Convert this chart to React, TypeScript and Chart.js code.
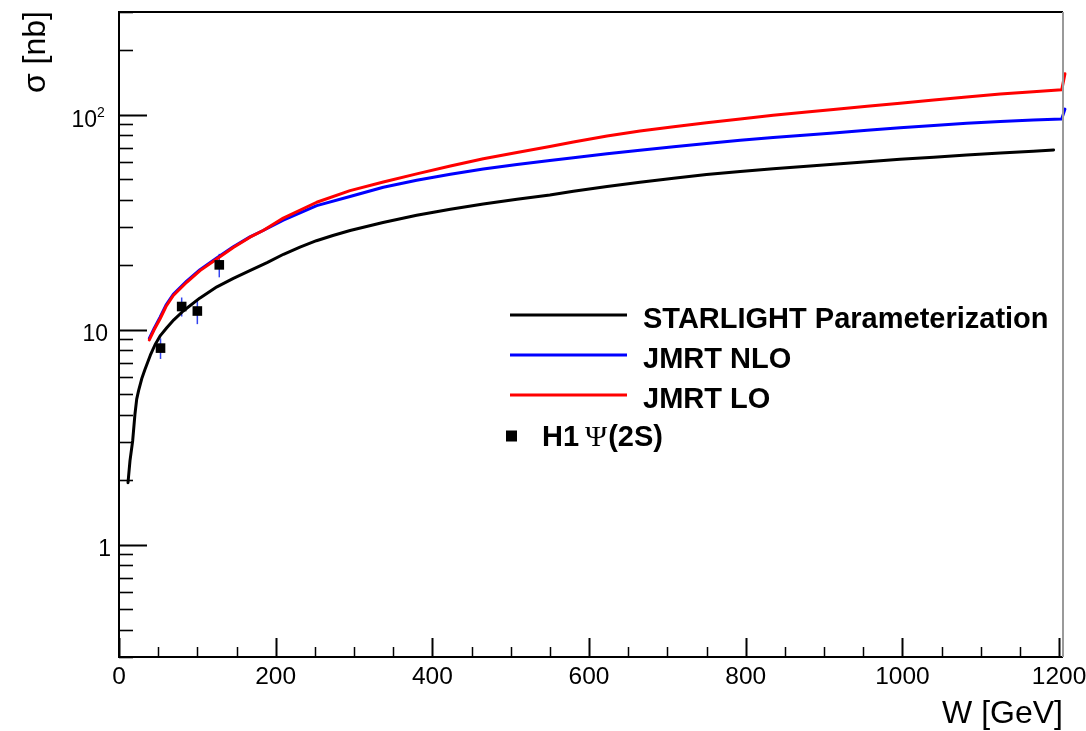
import React, { useEffect, useRef } from "react";
import { Chart, registerables } from "chart.js";

Chart.register(...registerables);

// STARLIGHT parameterization of the psi(2S) photoproduction cross section
const wStarlight = [11.5, 14, 17.5, 20.4, 22.6, 25, 29, 33, 40, 46, 53, 61, 70, 82, 103, 125, 146, 167, 189, 210, 231, 252, 273, 295, 337, 380, 423, 465, 508, 550, 580, 623, 665, 708, 750, 793, 835, 878, 912, 955, 997, 1040, 1082, 1125, 1167, 1193];
const sigmaStarlight = [1.94, 2.45, 3.05, 4.05, 4.75, 5.2, 5.9, 6.5, 7.6, 8.5, 9.4, 10.2, 11.1, 12.2, 14.0, 15.8, 17.3, 18.8, 20.5, 22.4, 24.2, 25.9, 27.4, 28.9, 31.5, 34.0, 36.3, 38.4, 40.4, 42.3, 44.0, 46.3, 48.5, 50.6, 52.6, 54.4, 56.0, 57.5, 58.8, 60.4, 61.9, 63.4, 64.9, 66.3, 67.6, 68.5];

// JMRT NLO
const wNLO = [38.7, 45, 52.3, 60, 69.3, 86.4, 103.4, 124.7, 145.9, 167.2, 184, 209.7, 252.4, 294.9, 337.4, 380, 423, 465, 508, 550, 580, 623, 665, 708, 750, 793, 835, 878, 912, 955, 997, 1040, 1082, 1125, 1167, 1203.4, 1207.5];
const sigmaNLO = [9.1, 10.15, 11.4, 13.0, 14.6, 16.8, 19.0, 21.5, 24.3, 27.0, 28.9, 32.3, 37.7, 41.6, 45.9, 49.5, 52.8, 55.8, 58.6, 61.2, 63.0, 65.7, 68.3, 70.9, 73.4, 75.9, 78.2, 80.4, 82.2, 84.5, 86.8, 89.0, 91.1, 92.9, 94.4, 95.5, 106];

// JMRT LO
const wLO = [38.7, 45, 52.3, 60, 69.3, 86.4, 103.4, 124.7, 145.9, 167.2, 184, 209.7, 252.4, 294.9, 337.4, 380, 423, 465, 508, 550, 580, 623, 665, 708, 750, 793, 835, 878, 912, 955, 997, 1040, 1082, 1125, 1167, 1203.4, 1207.5];
const sigmaLO = [8.96, 10.0, 11.2, 12.8, 14.4, 16.6, 18.8, 21.3, 24.1, 26.9, 28.9, 33.0, 39.1, 44.3, 48.6, 53.0, 57.7, 62.3, 66.6, 71.0, 74.5, 79.5, 83.8, 87.7, 91.6, 95.4, 99.2, 102.8, 105.6, 109.4, 113.0, 116.8, 120.8, 124.5, 127.8, 130.3, 155];

// H1 psi(2S) measurements
const wH1 = [53, 80, 100, 128];
const sigmaH1 = [8.2, 12.8, 12.2, 20.0];
const sigmaH1Err = [0.9, 1.3, 1.6, 2.5];

// Axis ticks and labels
const xMajorTicks = [0, 200, 400, 600, 800, 1000, 1200];
const xMinorStep = 50;
const yMajorTicks = [1, 10, 100];
const yTickLabels = ["1", "10", "10^2"];
const xTitle = "W [GeV]";
const yTitle = "σ [nb]";
const legendLabels = ["STARLIGHT Parameterization", "JMRT NLO", "JMRT LO"];
const legendColors = ["#000000", "#0000ff", "#ff0000"];

const SANS = '"Liberation Sans", Arial, Helvetica, sans-serif';
const SERIF = '"Liberation Serif", "Times New Roman", serif';

const toPoints = (xs: number[], ys: number[]) => xs.map((x, i) => ({ x, y: ys[i] }));

const errorBars = {
  id: "errorBars",
  beforeDatasetsDraw(chart: any) {
    const { ctx, scales } = chart;
    const xs = scales.x;
    const ys = scales.y;
    ctx.save();
    ctx.strokeStyle = "#3344ee";
    ctx.lineWidth = 1.5;
    wH1.forEach((w, i) => {
      const px = xs.getPixelForValue(w);
      const top = ys.getPixelForValue(sigmaH1[i] + sigmaH1Err[i]);
      const bot = ys.getPixelForValue(sigmaH1[i] - sigmaH1Err[i]);
      ctx.beginPath();
      ctx.moveTo(px, top);
      ctx.lineTo(px, bot);
      ctx.stroke();
    });
    ctx.restore();
  },
};

const frameAxes = {
  id: "frameAxes",
  afterDraw(chart: any) {
    const { ctx, chartArea: a, scales } = chart;
    const xs = scales.x;
    const ys = scales.y;
    ctx.save();

    // y ticks (inside the frame)
    ctx.strokeStyle = "#000";
    for (let d = -1; d <= 2; d++) {
      for (let m = 1; m <= 9; m++) {
        const v = m * Math.pow(10, d);
        if (v < ys.min - 1e-9 || v > ys.max + 1e-9) continue;
        const py = Math.round(ys.getPixelForValue(v)) + 0.5;
        const len = m === 1 ? 28 : 14;
        ctx.lineWidth = m === 1 ? 2 : 1.6;
        ctx.beginPath();
        ctx.moveTo(a.left, py);
        ctx.lineTo(a.left + len, py);
        ctx.stroke();
      }
    }

    // x ticks
    for (let v = 0; v <= xs.max; v += xMinorStep) {
      const px = Math.round(xs.getPixelForValue(v)) + 0.5;
      const major = xMajorTicks.includes(v);
      ctx.lineWidth = major ? 2 : 1.5;
      ctx.beginPath();
      ctx.moveTo(px, a.bottom);
      ctx.lineTo(px, a.bottom - (major ? 19 : 10));
      ctx.stroke();
    }

    // frame
    ctx.lineWidth = 2;
    ctx.strokeStyle = "#000";
    ctx.beginPath();
    ctx.moveTo(a.right, a.top);
    ctx.lineTo(a.left, a.top);
    ctx.lineTo(a.left, a.bottom);
    ctx.lineTo(a.right, a.bottom);
    ctx.stroke();
    ctx.strokeStyle = "#9a9a9a";
    ctx.beginPath();
    ctx.moveTo(a.right, a.top);
    ctx.lineTo(a.right, a.bottom);
    ctx.stroke();

    // tick labels
    ctx.fillStyle = "#000";
    ctx.textBaseline = "alphabetic";
    ctx.font = `24.5px ${SANS}`;
    ctx.textAlign = "center";
    xMajorTicks.forEach((v) => {
      ctx.fillText(String(v), xs.getPixelForValue(v), 684);
    });

    yMajorTicks.forEach((v, i) => {
      const py = ys.getPixelForValue(v);
      const label = yTickLabels[i];
      if (label.includes("^")) {
        const [base, exp] = label.split("^");
        ctx.font = `23px ${SANS}`;
        ctx.textAlign = "right";
        ctx.fillText(base, 97, py + 12);
        ctx.font = `14px ${SANS}`;
        ctx.textAlign = "left";
        ctx.fillText(exp, 97, py + 2.5);
      } else {
        ctx.font = `23px ${SANS}`;
        ctx.textAlign = "right";
        ctx.fillText(label, label.length === 1 ? 111 : 108, py + 11.5);
      }
    });

    // axis titles
    ctx.font = `32px ${SANS}`;
    ctx.textAlign = "right";
    ctx.fillText(xTitle, a.right, 723);
    ctx.save();
    ctx.translate(45, a.top - 1);
    ctx.rotate(-Math.PI / 2);
    ctx.textAlign = "right";
    ctx.fillText(yTitle, 0, 0);
    ctx.restore();

    // legend
    const rowY = [315, 355, 395];
    legendLabels.forEach((label, i) => {
      ctx.strokeStyle = legendColors[i];
      ctx.lineWidth = 3;
      ctx.beginPath();
      ctx.moveTo(510, rowY[i]);
      ctx.lineTo(627, rowY[i]);
      ctx.stroke();
      ctx.fillStyle = "#000";
      ctx.font = `bold 29px ${SANS}`;
      ctx.textAlign = "left";
      ctx.fillText(label, 643, rowY[i] + 12.5);
    });
    // H1 entry
    ctx.fillStyle = "#000";
    ctx.fillRect(506, 430.5, 11, 11);
    ctx.textAlign = "left";
    ctx.font = `bold 29px ${SANS}`;
    ctx.fillText("H1", 542, 446);
    ctx.font = `30px ${SERIF}`;
    ctx.fillText("Ψ", 585, 446);
    const psiW = ctx.measureText("Ψ").width;
    ctx.font = `bold 29px ${SANS}`;
    ctx.fillText("(2S)", 585 + psiW + 1, 446);

    ctx.restore();
  },
};

export default function App() {
  const canvasRef = useRef<HTMLCanvasElement | null>(null);

  useEffect(() => {
    const canvas = canvasRef.current;
    if (!canvas) return;
    const edgeClip = { left: 0, top: 0, right: 5, bottom: 0 };
    const chart = new Chart(canvas, {
      type: "line",
      data: {
        datasets: [
          {
            label: "H1 Ψ(2S)",
            data: toPoints(wH1, sigmaH1),
            showLine: false,
            pointStyle: "rect",
            pointRadius: 6.8,
            pointBackgroundColor: "#000",
            pointBorderColor: "#000",
            pointBorderWidth: 0,
          },
          {
            label: "JMRT LO",
            data: toPoints(wLO, sigmaLO),
            borderColor: "#ff0000",
            borderWidth: 3,
            pointRadius: 0,
            clip: edgeClip,
          },
          {
            label: "JMRT NLO",
            data: toPoints(wNLO, sigmaNLO),
            borderColor: "#0000ff",
            borderWidth: 3,
            pointRadius: 0,
            clip: edgeClip,
          },
          {
            label: "STARLIGHT Parameterization",
            data: toPoints(wStarlight, sigmaStarlight),
            borderColor: "#000000",
            borderWidth: 3,
            pointRadius: 0,
          },
        ],
      },
      options: {
        responsive: false,
        animation: false,
        devicePixelRatio: 1,
        layout: { padding: { left: 119, right: 23, top: 12, bottom: 74 } },
        elements: { line: { tension: 0, borderCapStyle: "round", borderJoinStyle: "round" } },
        scales: {
          x: { type: "linear", min: 0, max: 1205, display: false },
          y: { type: "logarithmic", min: 0.3, max: 300, display: false },
        },
        plugins: { legend: { display: false }, tooltip: { enabled: false } },
      },
      plugins: [errorBars, frameAxes],
    });
    return () => chart.destroy();
  }, []);

  return (
    <div style={{ position: "fixed", left: 0, top: 0, width: 1086, height: 731, background: "#fff" }}>
      <canvas ref={canvasRef} width={1086} height={731} style={{ display: "block" }} />
    </div>
  );
}
